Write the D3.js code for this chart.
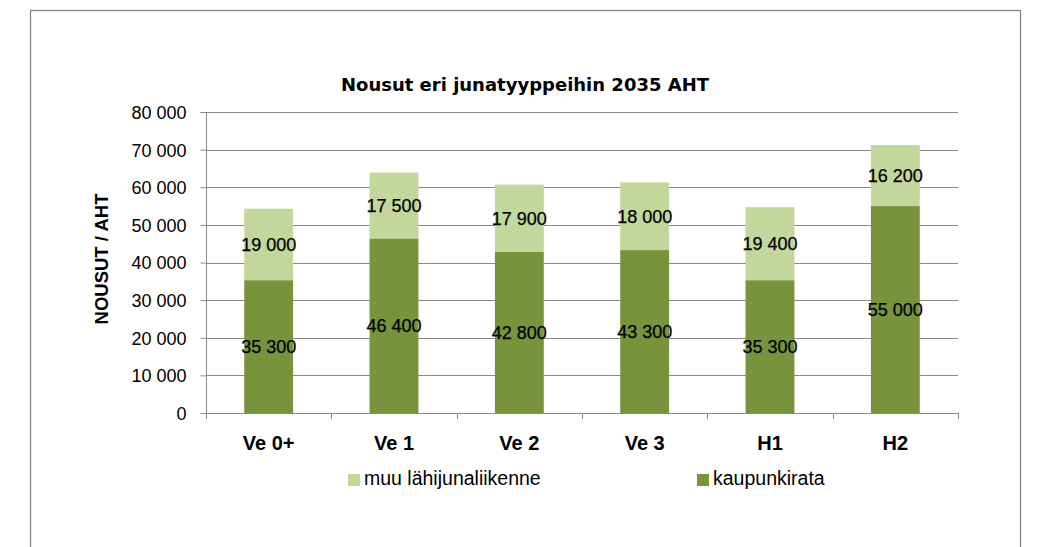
<!DOCTYPE html>
<html>
<head>
<meta charset="utf-8">
<script src="https://cdn.jsdelivr.net/npm/d3@7"></script>
<style>
  html, body { margin: 0; padding: 0; background: #fff; }
  svg { display: block; }
</style>
</head>
<body>
<svg id="chart" width="1046" height="547"></svg>
<script>
// Boardings per train type, 2035 morning peak hour
const categories = ["Ve 0+", "Ve 1", "Ve 2", "Ve 3", "H1", "H2"];
const kaupunkirata = [35300, 46400, 42800, 43300, 35300, 55000];
const muuLahijuna = [19000, 17500, 17900, 18000, 19400, 16200];
const yTicks = [0, 10000, 20000, 30000, 40000, 50000, 60000, 70000, 80000];
const seriesNames = ["muu lähijunaliikenne", "kaupunkirata"];
const chartTitle = "Nousut eri junatyyppeihin 2035 AHT";
const yAxisTitle = "NOUSUT / AHT";

const colors = { kaupunkirata: "#77933c", muu: "#c3d69b" };
const gridColor = "#8a8a8a";
const font = "'Liberation Sans', Arial, sans-serif";

const fi = d3.formatLocale({ decimal: ",", thousands: " ", grouping: [3], currency: ["", ""] });
const fmt = fi.format(",d");

const svg = d3.select("#chart");

// outer frame
svg.append("rect")
  .attr("x", 30.5).attr("y", 10.5)
  .attr("width", 990).attr("height", 560)
  .attr("fill", "#fff")
  .attr("stroke", "#7f7f7f").attr("stroke-width", 1.2);

const plot = { left: 206, right: 958, top: 112, bottom: 413 };

const x = d3.scaleBand()
  .domain(categories)
  .range([plot.left, plot.right])
  .paddingInner(0.61)
  .paddingOuter(0.305);

const y = d3.scaleLinear()
  .domain([0, 80000])
  .range([plot.bottom, plot.top]);

// gridlines
svg.append("g")
  .selectAll("line")
  .data(yTicks.filter(d => d > 0))
  .join("line")
  .attr("x1", plot.left).attr("x2", plot.right)
  .attr("y1", d => Math.round(y(d)) + 0.5).attr("y2", d => Math.round(y(d)) + 0.5)
  .attr("stroke", gridColor).attr("stroke-width", 1);

// stacked bars
const stackData = categories.map((c, i) => ({ cat: c, kaupunkirata: kaupunkirata[i], muu: muuLahijuna[i] }));
const stack = d3.stack().keys(["kaupunkirata", "muu"]);
const layers = stack(stackData);

const barG = svg.append("g");
layers.forEach(layer => {
  barG.append("g")
    .attr("fill", colors[layer.key])
    .selectAll("rect")
    .data(layer)
    .join("rect")
    .attr("x", d => x(d.data.cat))
    .attr("width", x.bandwidth())
    .attr("y", d => y(d[1]))
    .attr("height", d => y(d[0]) - y(d[1]));
});

// value labels centred in each segment
layers.forEach(layer => {
  svg.append("g")
    .selectAll("text")
    .data(layer)
    .join("text")
    .attr("x", d => x(d.data.cat) + x.bandwidth() / 2)
    .attr("y", d => y((d[0] + d[1]) / 2))
    .attr("dy", "0.36em")
    .attr("text-anchor", "middle")
    .attr("font-family", font)
    .attr("font-size", 18)
    .attr("fill", "#000")
    .attr("stroke", "#000").attr("stroke-width", 0.25)
    .text(d => fmt(d[1] - d[0]));
});

// y axis
const yAxis = d3.axisLeft(y)
  .tickValues(yTicks)
  .tickFormat(d => fmt(d))
  .tickSize(6)
  .tickPadding(14);

const yG = svg.append("g")
  .attr("transform", `translate(${plot.left + 0.5},0)`)
  .call(yAxis);
yG.select(".domain").attr("stroke", gridColor).attr("d", `M-6,${plot.top + 0.5}H0V${plot.bottom + 0.5}H-6`);
yG.selectAll(".tick line").attr("stroke", gridColor);
yG.selectAll(".tick text")
  .attr("font-family", font)
  .attr("font-size", 18)
  .attr("fill", "#000")
  .attr("dy", "0.36em");

// x axis baseline and boundary ticks
const xG = svg.append("g");
xG.append("line")
  .attr("x1", plot.left).attr("x2", plot.right)
  .attr("y1", plot.bottom + 0.5).attr("y2", plot.bottom + 0.5)
  .attr("stroke", gridColor);
xG.selectAll("line.tick")
  .data(d3.range(categories.length + 1))
  .join("line")
  .attr("class", "tick")
  .attr("x1", i => Math.round(plot.left + i * x.step()) + 0.5)
  .attr("x2", i => Math.round(plot.left + i * x.step()) + 0.5)
  .attr("y1", plot.bottom).attr("y2", plot.bottom + 6)
  .attr("stroke", gridColor);

xG.selectAll("text")
  .data(categories)
  .join("text")
  .attr("x", d => x(d) + x.bandwidth() / 2)
  .attr("y", 450)
  .attr("text-anchor", "middle")
  .attr("font-family", font)
  .attr("font-weight", "bold")
  .attr("font-size", 20)
  .attr("fill", "#000")
  .text(d => d);

// title
svg.append("text")
  .attr("x", 525).attr("y", 91)
  .attr("text-anchor", "middle")
  .attr("font-family", "'DejaVu Sans', Verdana, sans-serif")
  .attr("font-weight", "bold")
  .attr("font-size", 18)
  .attr("fill", "#000")
  .text(chartTitle);

// y axis title
svg.append("text")
  .attr("transform", "translate(108,259) rotate(-90)")
  .attr("text-anchor", "middle")
  .attr("font-family", font)
  .attr("font-weight", "bold")
  .attr("font-size", 18.5)
  .attr("fill", "#000")
  .text(yAxisTitle);

// legend
const legendItems = [
  { name: seriesNames[0], color: colors.muu, x: 348 },
  { name: seriesNames[1], color: colors.kaupunkirata, x: 697 }
];
const lg = svg.append("g");
legendItems.forEach(it => {
  lg.append("rect")
    .attr("x", it.x).attr("y", 474)
    .attr("width", 12).attr("height", 12)
    .attr("fill", it.color);
  lg.append("text")
    .attr("x", it.x + 16).attr("y", 485)
    .attr("font-family", font)
    .attr("font-size", 19.5)
    .attr("fill", "#000")
    .text(it.name);
});
</script>
</body>
</html>
